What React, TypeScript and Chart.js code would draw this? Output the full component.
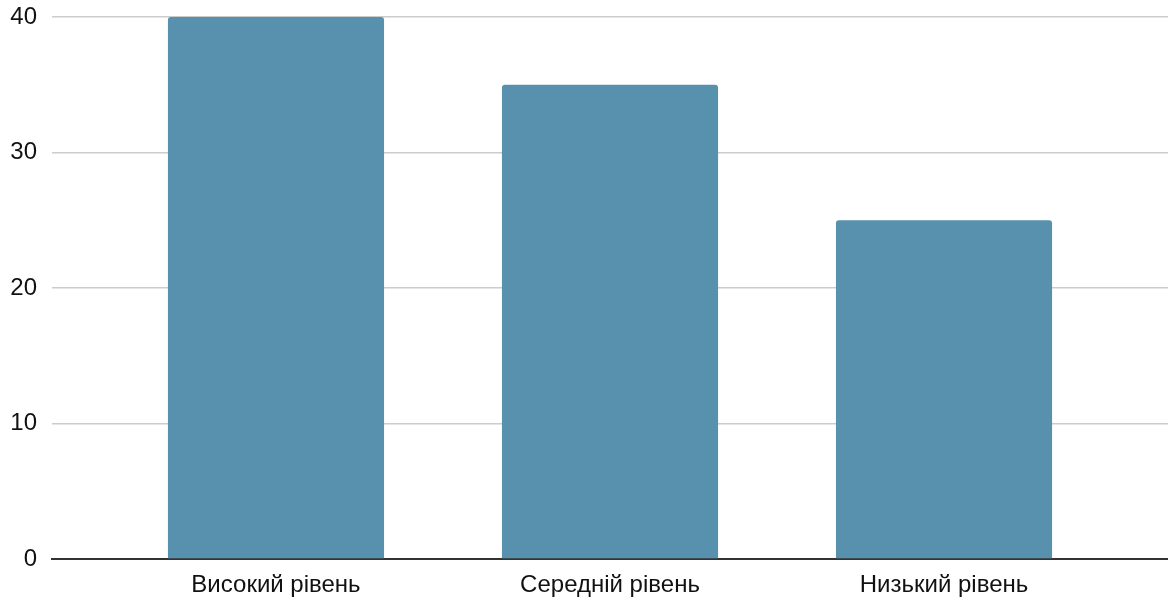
import React, { useEffect, useRef } from "react";
import { Chart, registerables } from "chart.js";

Chart.register(...registerables);

const categories = ["Високий рівень", "Середній рівень", "Низький рівень"];
const values = [40, 35, 25];
const yTicks = [0, 10, 20, 30, 40];

const FONT = "Arial, 'Liberation Sans', sans-serif";
// Categories are spaced a bit tighter than the full plot width (extra side margin)
const X_EXTRA = 0.1706;

export default function App() {
  const ref = useRef<HTMLCanvasElement | null>(null);
  useEffect(() => {
    if (!ref.current) return;
    const chart = new Chart(ref.current, {
      type: "bar",
      data: {
        labels: categories,
        datasets: [
          {
            data: values,
            backgroundColor: "#5891AE",
            borderRadius: { topLeft: 3, topRight: 3, bottomLeft: 0, bottomRight: 0 },
            borderSkipped: "bottom",
            categoryPercentage: 1,
            barPercentage: 0.647,
          },
        ],
      },
      options: {
        animation: false,
        responsive: false,
        maintainAspectRatio: false,
        layout: { padding: { left: 10, top: 17, right: 0, bottom: 0 } },
        plugins: { legend: { display: false }, tooltip: { enabled: false } },
        scales: {
          x: {
            afterDataLimits: (axis: any) => {
              axis.min = -X_EXTRA;
              axis.max = categories.length - 1 + X_EXTRA;
            },
            afterBuildTicks: (axis: any) => {
              axis.ticks = categories.map((_, i) => ({ value: i }));
              axis._startValue = -X_EXTRA - 0.5;
              axis._valueRange = categories.length + 2 * X_EXTRA;
            },
            afterFit: (axis: any) => {
              axis.paddingLeft = 0;
              axis.paddingRight = 0;
              axis.height = 41;
            },
            grid: { display: false, drawTicks: false },
            border: { display: true, color: "#333333", width: 2 },
            ticks: {
              color: "#111111",
              padding: 12,
              autoSkip: false,
              maxRotation: 0,
              font: { family: FONT, size: 24 },
            },
          },
          y: {
            min: 0,
            max: 40,
            afterBuildTicks: (axis: any) => {
              axis.ticks = yTicks.map((v) => ({ value: v }));
            },
            afterFit: (axis: any) => {
              axis.paddingTop = 0;
              axis.paddingBottom = 0;
              axis.width = 42;
            },
            grid: { color: "#cccccc", lineWidth: 1.5, drawTicks: false },
            border: { display: false },
            ticks: {
              color: "#111111",
              padding: 15,
              font: { family: FONT, size: 24 },
            },
          },
        },
      },
    });
    return () => chart.destroy();
  }, []);
  return (
    <div style={{ position: "fixed", left: 0, top: 0, width: 1168, height: 600, background: "#fff" }}>
      <canvas ref={ref} width={1168} height={600} style={{ display: "block" }} />
    </div>
  );
}
